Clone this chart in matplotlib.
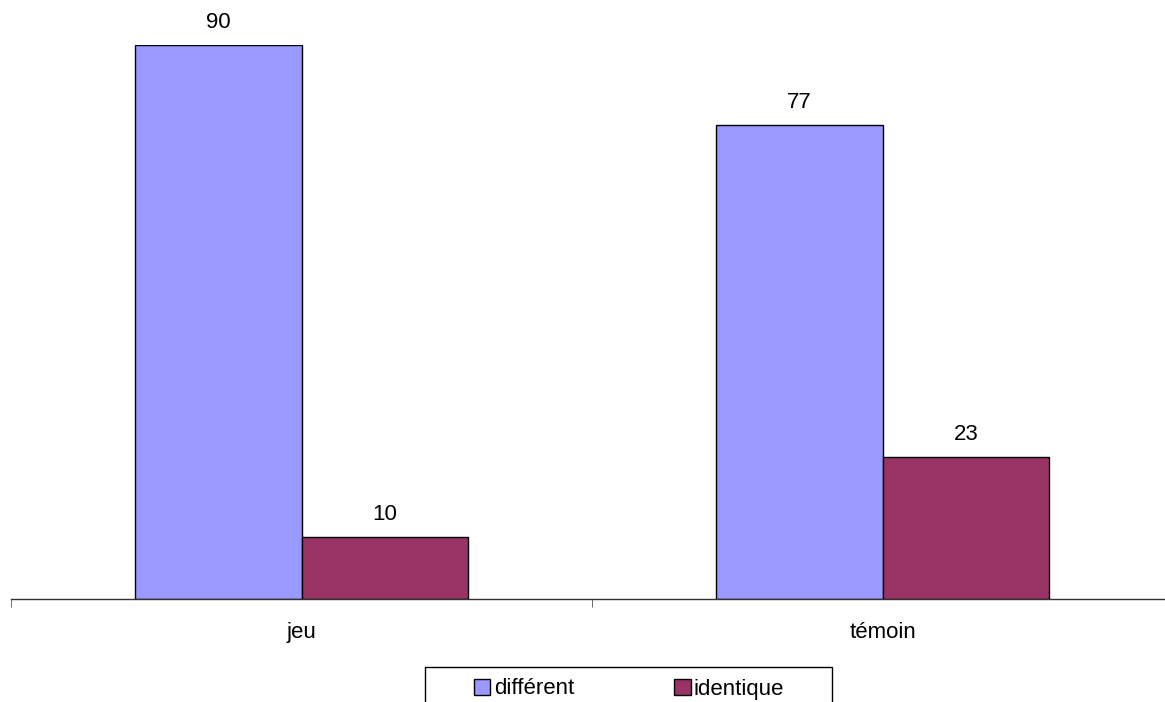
import numpy as np
import matplotlib.pyplot as plt
from matplotlib.patches import Rectangle, Patch

plt.rcParams['font.family'] = ['Liberation Sans', 'DejaVu Sans']

categories = ['jeu', 'témoin']
series_names = ['différent', 'identique']
different = [90, 77]
identique = [10, 23]
colors = ['#9999ff', '#993366']

W, H = 1165, 702
fig = plt.figure(figsize=(W / 100, H / 100), dpi=100)

# axes spans past the right edge of the figure, like the original
x0, x1 = 11, 1173
y_base, y_top = 599, 45
ax = fig.add_axes([x0 / W, (H - y_base) / H, (x1 - x0) / W, (y_base - y_top) / H])

x = np.arange(len(categories))
bw = 0.287
series = [different, identique]
for i, vals in enumerate(series):
    pos = x + (i - 0.5) * bw
    bars = ax.bar(pos, vals, width=bw, color=colors[i], edgecolor='black', linewidth=1)
    for b, v in zip(bars, vals):
        ax.text(b.get_x() + b.get_width() / 2, v + 2.0, str(v),
                ha='center', va='bottom', fontsize=16)

ax.set_xlim(-0.5, len(categories) - 0.5)
ax.set_ylim(0, 90)
for s in ['top', 'right', 'left']:
    ax.spines[s].set_visible(False)
ax.spines['bottom'].set_color('#333333')
ax.spines['bottom'].set_linewidth(1)
ax.set_yticks([])
ax.set_xticks(np.arange(len(categories) + 1) - 0.5, minor=True)
ax.set_xticks(x)
ax.set_xticklabels(categories, fontsize=16)
ax.tick_params(axis='x', which='major', length=0, pad=16.5)
ax.tick_params(axis='x', which='minor', length=6, color='#555555')
ax.patch.set_alpha(0)

# legend box, bottom runs off the figure
fig.patches.append(Rectangle((425 / W, -0.05), (832 - 425) / W, 0.05 + (H - 667) / H,
                             transform=fig.transFigure, fill=False,
                             edgecolor='black', linewidth=1))
handles = [Patch(facecolor=c, edgecolor='black', label=n) for c, n in zip(colors, series_names)]
fig.legend(handles=handles, loc='center', bbox_to_anchor=(629 / W, (H - 689) / H),
           ncol=2, frameon=False, fontsize=16, handlelength=0.75, handleheight=0.75,
           handletextpad=0.15, columnspacing=4.5)

fig.savefig('out.png', dpi=100)
